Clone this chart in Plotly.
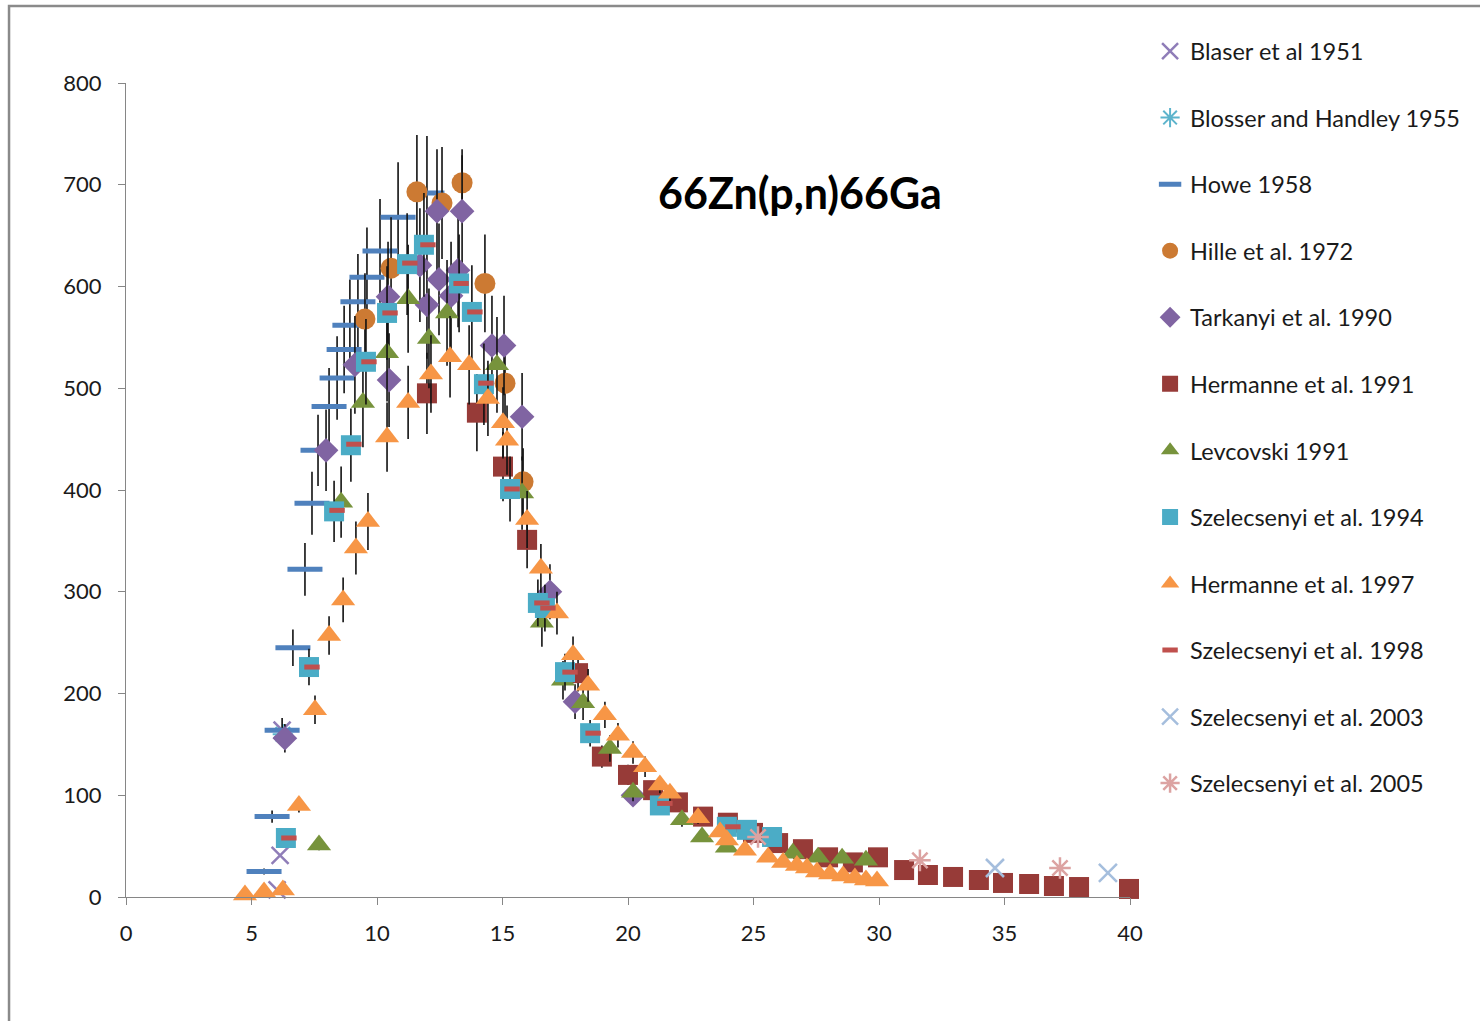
import plotly.graph_objects as go

# ---------------- data (energy MeV, cross section mb) ----------------
blaser_x = [6.02, 6.14, 6.22]
blaser_y = [7, 41, 164]

blosser_x = [6.25]
blosser_y = [160]

howe_x = [5.50, 5.82, 6.22, 6.65, 7.13, 7.41, 7.65, 8.09, 8.41, 8.69, 8.92, 9.24, 9.60, 10.12, 10.84, 11.99]
howe_y = [25, 79, 164, 245, 322, 387, 439, 482, 510, 538, 562, 585, 609, 635, 668, 692]
howe_err = [3, 6, 12, 18, 26, 31, 35, 38, 41, 43, 45, 47, 49, 51, 54, 56]

hille_x = [9.52, 10.56, 11.59, 12.59, 13.39, 14.30, 15.10, 15.82]
hille_y = [568, 618, 693, 682, 702, 603, 505, 408]
hille_err = [45, 50, 56, 55, 27, 48, 40, 33]

tark_x = [6.33, 7.97, 9.12, 10.44, 10.48, 11.99, 11.71, 12.39, 12.47, 12.95, 13.23, 13.39,
          14.58, 15.06, 15.78, 16.89, 17.89, 20.2]
tark_y = [156, 439, 523, 590, 508, 582, 621, 674, 607, 591, 616, 674,
          542, 542, 472, 300, 192, 100]
tark_err = [14, 40, 48, 54, 46, 53, 56, 61, 55, 53, 56, 61, 49, 49, 43, 27, 17, 9]

herm91_x = [11.99, 13.98, 15.02, 15.98, 18.01, 18.96, 20.0, 21.0, 21.99, 22.99, 23.98, 24.98,
            25.98, 26.97, 27.97, 28.96, 29.96, 31.0, 31.95, 32.95, 33.98, 34.94, 35.98, 36.97,
            37.97, 39.96]
herm91_y = [495, 476, 423, 351, 220, 138, 120, 105, 93, 79, 73, 63,
            53, 47, 39, 34, 39, 26.5, 21.6, 19.7, 16.7, 13.8, 12.8, 10.8,
            9.8, 7.9]
herm91_err = [40, 38, 34, 28, 18, 11, 10, 8, 7, 6, 6, 5,
              4, 4, 3, 3, 3, 2, 2, 2, 1, 1, 1, 1,
              1, 1]

levc_x = [7.69, 8.57, 9.44, 10.40, 11.24, 12.07, 12.79, 14.78, 15.78, 16.57, 17.41, 18.21,
          19.28, 20.2, 22.15, 22.95, 23.94, 26.57, 27.57, 28.53, 29.48]
levc_y = [51, 388, 486, 535, 588, 549, 574, 523, 397, 270, 213, 191,
          146, 103, 76, 59, 49, 43, 39, 38, 36]
levc_err = [5, 35, 44, 48, 53, 49, 52, 47, 36, 24, 19, 17, 13, 9, 7, 5, 4, 4, 3, 3, 3]

sz94_x = [6.37, 7.29, 8.29, 8.96, 9.56, 10.40, 11.20, 11.87, 13.27, 13.78, 14.26, 15.30,
          16.41, 16.69, 17.49, 18.49, 21.27, 23.94, 24.74, 25.74]
sz94_y = [58, 226, 379, 444, 526, 574, 622, 641, 603, 575, 504, 401,
          289, 284, 221, 161, 90, 69, 66, 59]
sz94_err = [5, 18, 30, 36, 42, 46, 50, 51, 48, 46, 40, 32, 23, 23, 18, 13, 7, 6, 5, 5]

herm97_x = [4.74, 5.50, 6.25, 6.89, 7.53, 8.09, 8.65, 9.16, 9.64, 10.40, 11.24, 12.15,
            12.91, 13.67, 14.42, 15.02, 15.18, 15.98, 16.53, 17.17, 17.81, 18.41, 19.08, 19.60,
            20.20, 20.68, 21.27, 21.67, 22.79, 23.67, 23.94, 24.66, 25.58, 26.18, 26.73, 27.13,
            27.53, 28.05, 28.57, 29.04, 29.48, 29.92]
herm97_y = [2, 5, 7, 90, 184, 257, 292, 343, 369, 452, 486, 514,
            531, 523, 490, 466, 449, 371, 323, 279, 238, 208, 179, 159,
            142, 128, 110, 102, 78, 64, 56, 46, 39, 34, 31, 28.5,
            24.6, 22.6, 20.6, 18.7, 16.7, 15.7]
herm97_err = [0, 0, 0, 7, 14, 19, 22, 26, 28, 34, 36, 38,
              40, 39, 37, 35, 34, 28, 24, 21, 18, 16, 13, 12,
              11, 10, 8, 8, 6, 5, 4, 3, 3, 3, 2, 2,
              2, 2, 2, 1, 1, 1]

sz98_x = [6.49, 7.41, 8.41, 9.08, 9.68, 10.52, 11.31, 12.03, 13.35, 13.90, 14.34, 15.38,
          16.57, 16.81, 17.69, 18.61, 21.47, 24.18]
sz98_y = [58, 226, 380, 445, 526, 574, 623, 641, 603, 575, 505, 401,
          289, 284, 221, 161, 92, 69]

sz03_x = [34.62, 39.12]
sz03_y = [28.5, 23.6]

sz05_x = [25.18, 31.63, 37.21]
sz05_y = [59, 36, 28.5]

x_ticks = [0, 5, 10, 15, 20, 25, 30, 35, 40]
y_ticks = [0, 100, 200, 300, 400, 500, 600, 700, 800]

FONT = "Lato"
ERR = dict(type="data", thickness=1.6, width=0, color="#111111")

fig = go.Figure()

def add(name, xs, ys, symbol, size, color, line_color=None, line_width=0, err=None):
    kw = {}
    if err is not None:
        kw["error_y"] = dict(array=err, **ERR)
    fig.add_trace(go.Scatter(
        x=xs, y=ys, mode="markers", name=name, legendgroup=name,
        cliponaxis=False,
        marker=dict(symbol=symbol, size=size, color=color,
                    line=dict(color=line_color if line_color else color, width=line_width)),
        **kw))

add("Blaser et al 1951", blaser_x, blaser_y, "x-thin-open", 17, "#8F7DB8", "#7E66A8", 2.5)
add("Blosser and Handley 1955", blosser_x, blosser_y, "asterisk-open", 17, "#5DB4CC", "#5DB4CC", 2)
add("Howe 1958", howe_x, howe_y, "line-ew-open", 25, "#4F81BD", "#4F81BD", 5, howe_err)
add("Hille et al. 1972", hille_x, hille_y, "circle", 21, "#CC7A33", err=hille_err)
add("Tarkanyi et al. 1990", tark_x, tark_y, "diamond", 19, "#8064A2", err=tark_err)
add("Hermanne et al. 1991", herm91_x, herm91_y, "square", 20, "#973B38", err=herm91_err)
add("Levcovski 1991", levc_x, levc_y, "triangle-up", 21, "#77933C", err=levc_err)
add("Szelecsenyi et al. 1994", sz94_x, sz94_y, "square", 20, "#4BACC6", err=sz94_err)
add("Hermanne et al. 1997", herm97_x, herm97_y, "triangle-up", 21, "#F79646", err=herm97_err)
add("Szelecsenyi et al. 1998", sz98_x, sz98_y, "line-ew-open", 11, "#C0504D", "#C0504D", 5)
add("Szelecsenyi et al. 2003", sz03_x, sz03_y, "x-thin-open", 18, "#A5BEDD", "#A5BEDD", 2.5)
add("Szelecsenyi et al. 2005", sz05_x, sz05_y, "asterisk-open", 18, "#DCA3A2", "#DCA3A2", 2.5)

axis_common = dict(showgrid=False, zeroline=False, showline=True, linecolor="#868686",
                   linewidth=1.3, ticks="outside", tickcolor="#868686", ticklen=7,
                   tickfont=dict(family=FONT, size=22, color="#1a1a1a"))

fig.update_layout(
    width=1480, height=1021,
    margin=dict(l=126, r=350, t=83, b=124),
    paper_bgcolor="white", plot_bgcolor="white",
    xaxis=dict(range=[0, 40], tickvals=x_ticks, ticktext=[str(v) for v in x_ticks],
               ticklabelstandoff=9, **axis_common),
    yaxis=dict(range=[0, 800], tickvals=y_ticks, ticktext=[str(v) for v in y_ticks],
               ticklabelstandoff=12, **axis_common),
    showlegend=True,
    legend=dict(x=1.02, y=1.066, xanchor="left", yanchor="top",
                font=dict(family=FONT, size=23.5, color="#1a1a1a"),
                traceorder="grouped", tracegroupgap=33, itemsizing="trace",
                maxheight=1000,
                bgcolor="rgba(0,0,0,0)"),
    annotations=[dict(text="<b>66Zn(p,n)66Ga</b>", x=0.671, y=0.865, xref="paper", yref="paper",
                      xanchor="center", yanchor="middle",
                      showarrow=False, font=dict(family=FONT, size=43, color="#000000"))],
    shapes=[dict(type="rect", xref="paper", yref="paper",
                 x0=-0.1165, y0=-0.2, x1=1.4, y1=1.0946,
                 line=dict(color="#8a8a8a", width=2.5), fillcolor="rgba(0,0,0,0)", layer="below")],
)

fig.write_html("out.html")
